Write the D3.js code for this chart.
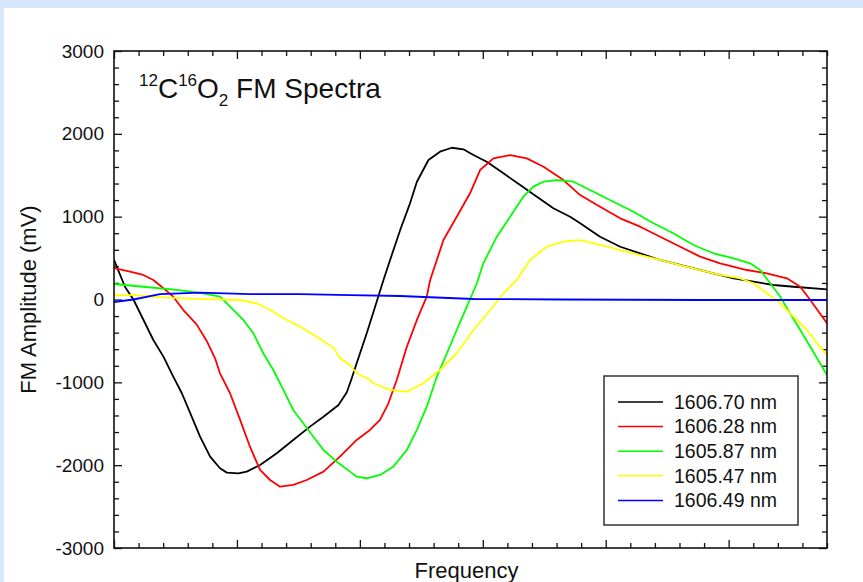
<!DOCTYPE html>
<html>
<head>
<meta charset="utf-8">
<script src="https://cdn.jsdelivr.net/npm/d3@7"></script>
<style>
  html, body { margin: 0; padding: 0; background: #d6e7fc; }
  svg { display: block; }
  text { font-family: "Liberation Sans", Arial, sans-serif; fill: #111; }
</style>
</head>
<body>
<svg id="chart" width="863" height="582"></svg>
<script>
// FM spectra, x = frequency (arb., minor tick units), y = FM amplitude (mV)

var seriesNames = ["1606.70 nm", "1606.28 nm", "1605.87 nm", "1605.47 nm", "1606.49 nm"];
var seriesColors = ["#000000", "#ff0000", "#00ff00", "#ffff00", "#0000ff"];

var black = [[0,480],[0.45,151],[0.79,0],[1.13,-205],[1.60,-489],[2.01,-690],[2.41,-932],[2.76,-1132],
  [3.16,-1415],[3.50,-1656],[3.91,-1897],[4.31,-2037],[4.59,-2090],[5.06,-2098],[5.40,-2078],[5.94,-1998],
  [6.62,-1856],[7.29,-1696],[7.97,-1535],[8.52,-1415],[9.13,-1273],[9.47,-1120],[9.67,-951],[9.87,-770],
  [10.28,-408],[10.62,-87],[10.96,235],[11.23,477],[11.64,839],[12.04,1161],[12.32,1422],[12.79,1684],
  [13.26,1784],[13.74,1832],[14.21,1813],[14.62,1744],[15.16,1663],[15.84,1523],[16.52,1382],[17.20,1241],
  [17.87,1101],[18.55,999],[18.96,920],[19.77,758],[20.59,637],[21.40,558],[22.21,477],[23.30,396],
  [24.38,316],[25.20,256],[26.01,215],[26.82,175],[27.64,154],[29,123]];

var red = [[0,380],[0.65,336],[1.19,296],[1.60,235],[2.01,135],[2.41,34],[2.82,-127],[3.36,-300],
  [3.77,-500],[4.11,-710],[4.31,-891],[4.72,-1132],[5.13,-1454],[5.53,-1777],[5.94,-2058],[6.35,-2179],
  [6.75,-2260],[7.29,-2239],[7.84,-2179],[8.52,-2078],[9.19,-1897],[9.87,-1696],[10.41,-1575],[10.82,-1454],
  [11.16,-1253],[11.50,-972],[11.91,-570],[12.32,-247],[12.72,34],[12.86,235],[13.40,718],[13.94,999],
  [14.48,1282],[14.89,1563],[15.43,1704],[16.11,1744],[16.79,1704],[17.47,1603],[18.28,1442],[18.96,1261],
  [19.77,1120],[20.59,980],[21.40,879],[22.21,758],[23.03,637],[23.84,517],[24.65,437],[25.74,356],
  [26.55,316],[27.37,256],[27.91,154],[28.32,-6],[29,-287]];

var green = [[0,187],[1.19,154],[2.55,115],[3.63,75],[4.31,34],[4.72,-87],[5.26,-247],[5.67,-408],
  [6.07,-649],[6.48,-851],[6.89,-1092],[7.29,-1334],[7.70,-1494],[8.11,-1656],[8.52,-1817],[9.06,-1958],
  [9.60,-2078],[9.87,-2139],[10.28,-2158],[10.82,-2118],[11.36,-2018],[11.91,-1817],[12.32,-1575],[12.72,-1294],
  [13.13,-932],[13.54,-649],[13.94,-368],[14.35,-87],[14.76,196],[15.02,437],[15.57,758],[16.11,999],
  [16.65,1241],[17.06,1362],[17.47,1422],[18.01,1442],[18.69,1422],[19.50,1301],[20.31,1180],[21.13,1060],
  [21.94,920],[22.75,799],[23.57,658],[24.38,558],[25.20,497],[25.87,437],[26.28,356],[26.69,196],
  [27.10,34],[27.50,-167],[27.91,-368],[28.32,-570],[29,-911]];

var yellow = [[0,54],[0.79,54],[1.60,34],[2.82,14],[4.19,2],[5.13,-6],[5.79,-46],[6.35,-127],
  [7.03,-247],[7.57,-328],[8.25,-449],[8.95,-590],[9.19,-706],[9.60,-791],[9.87,-891],[10.41,-972],
  [10.55,-1011],[11.23,-1092],[11.91,-1113],[12.58,-1011],[13.26,-851],[13.94,-649],[14.62,-368],[15.30,-127],
  [15.84,75],[16.38,235],[16.92,477],[17.60,637],[18.28,698],[18.96,718],[19.77,658],[20.59,597],
  [21.40,537],[22.21,477],[23.03,416],[23.84,356],[24.65,296],[25.47,256],[26.01,196],[26.55,75],
  [27.10,-46],[27.64,-208],[28.18,-368],[28.59,-529],[29,-670]];

var blue = [[0,-30],[0.79,0],[1.87,66],[3.50,82],[5.53,66],[7.57,66],[9.60,54],[11.64,42],
  [12.86,27],[14.62,6],[18.15,0],[23.84,-6],[29,-6]];

var series = [black, red, green, yellow, blue];

var yTickValues = [-3000, -2000, -1000, 0, 1000, 2000, 3000];

//@config
var margin = {left: 114, top: 51, right: 36, bottom: 34};
var width = 863, height = 582;

var svg = d3.select("#chart");

// white panel on the light blue page
svg.append("rect")
  .attr("x", 4).attr("y", 8)
  .attr("width", width - 4).attr("height", height - 8)
  .attr("fill", "#ffffff");

var x = d3.scaleLinear().domain([0, 29]).range([margin.left, width - margin.right]);
var y = d3.scaleLinear().domain([-3000, 3000]).range([height - margin.bottom, margin.top]);

var x0 = x.range()[0], x1 = x.range()[1];
var y0 = y.range()[1], y1 = y.range()[0];

var majorX = d3.range(0, 30, 5);
var minorX = d3.range(0, 30).filter(function(d) { return d % 5 !== 0; });
var minorY = d3.range(-3000, 3001, 200).filter(function(d) { return d % 1000 !== 0; });

function ticks(axis, pos, values, size, labels) {
  var g = svg.append("g")
    .attr("transform", pos)
    .call(axis.tickValues(values).tickSizeInner(-size).tickSizeOuter(0)
      .tickPadding(10).tickFormat(labels ? function(d) { return String(d); } : ""));
  g.select(".domain").remove();
  g.selectAll("line").attr("stroke", "#111").attr("stroke-width", 1.3);
  g.selectAll("text").attr("font-size", 19).attr("font-family", "Liberation Sans, Arial, sans-serif").attr("fill", "#111");
  return g;
}

// ticks point inward on all four sides
ticks(d3.axisBottom(x), "translate(0," + y1 + ")", majorX, 8, false);
ticks(d3.axisBottom(x), "translate(0," + y1 + ")", minorX, 5, false);
ticks(d3.axisTop(x), "translate(0," + y0 + ")", majorX, 8, false);
ticks(d3.axisTop(x), "translate(0," + y0 + ")", minorX, 5, false);
ticks(d3.axisLeft(y), "translate(" + x0 + ",0)", yTickValues, 8, true);
ticks(d3.axisLeft(y), "translate(" + x0 + ",0)", minorY, 5, false);
ticks(d3.axisRight(y), "translate(" + x1 + ",0)", yTickValues, 8, false);
ticks(d3.axisRight(y), "translate(" + x1 + ",0)", minorY, 5, false);

// clip for the traces
svg.append("clipPath").attr("id", "plot-clip")
  .append("rect").attr("x", x0).attr("y", y0).attr("width", x1 - x0).attr("height", y1 - y0);

var line = d3.line()
  .x(function(d) { return x(d[0]); })
  .y(function(d) { return y(d[1]); });

svg.append("g")
  .attr("clip-path", "url(#plot-clip)")
  .selectAll("path")
  .data(series)
  .enter().append("path")
  .attr("d", line)
  .attr("fill", "none")
  .attr("stroke", function(d, i) { return seriesColors[i]; })
  .attr("stroke-width", 1.8)
  .attr("stroke-linejoin", "round");

// frame
svg.append("rect")
  .attr("x", x0).attr("y", y0)
  .attr("width", x1 - x0).attr("height", y1 - y0)
  .attr("fill", "none").attr("stroke", "#111").attr("stroke-width", 1.6);

// title with isotopes
var title = svg.append("text").attr("x", 139).attr("y", 98).attr("font-size", 28);
title.append("tspan").attr("font-size", 17).attr("dy", -12).text("12");
title.append("tspan").attr("dy", 12).text("C");
title.append("tspan").attr("font-size", 17).attr("dy", -12).text("16");
title.append("tspan").attr("dy", 12).text("O");
title.append("tspan").attr("font-size", 17).attr("dy", 8).text("2");
title.append("tspan").attr("dy", -8).text(" FM Spectra");

// axis titles
svg.append("text")
  .attr("transform", "translate(36," + ((y0 + y1) / 2) + ") rotate(-90)")
  .attr("text-anchor", "middle")
  .attr("font-size", 22)
  .text("FM Amplitude (mV)");

svg.append("text")
  .attr("x", (x0 + x1) / 2 - 4).attr("y", 578)
  .attr("text-anchor", "middle")
  .attr("font-size", 22)
  .text("Frequency");

// legend
var legend = svg.append("g").attr("transform", "translate(604,376)");
legend.append("rect")
  .attr("width", 194).attr("height", 149)
  .attr("fill", "#ffffff").attr("stroke", "#333").attr("stroke-width", 1.5);

var rows = legend.selectAll(".row")
  .data(seriesNames)
  .enter().append("g")
  .attr("class", "row")
  .attr("transform", function(d, i) { return "translate(0," + (26 + i * 24.6) + ")"; });

rows.append("line")
  .attr("x1", 14).attr("x2", 59)
  .attr("stroke", function(d, i) { return seriesColors[i]; })
  .attr("stroke-width", 1.5);

rows.append("text")
  .attr("x", 70).attr("dy", "0.35em")
  .attr("font-size", 19.5)
  .text(function(d) { return d; });
</script>
</body>
</html>
